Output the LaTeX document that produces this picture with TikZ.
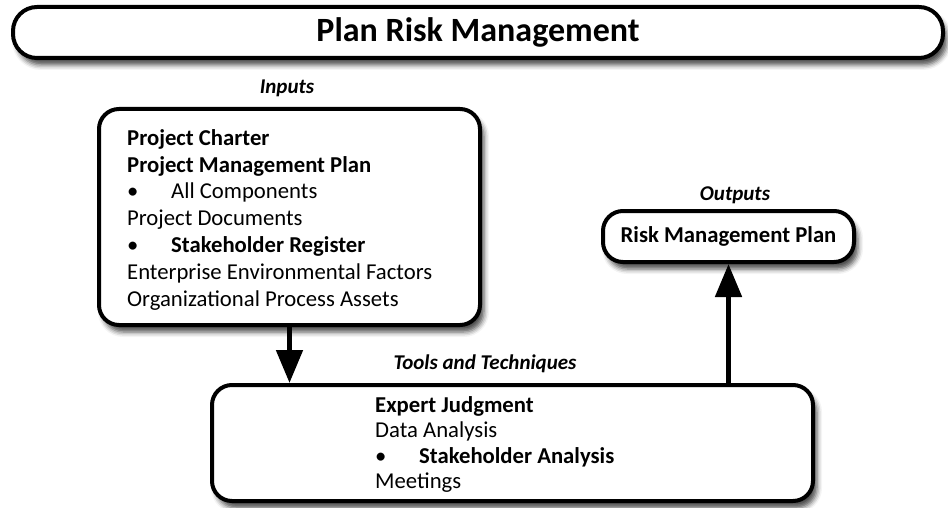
\documentclass[tikz,border=0pt]{standalone}
\usepackage{fontspec}
\setmainfont{Carlito}
\usetikzlibrary{shadows.blur,arrows.meta}

\tikzset{
  roundbox/.style={draw, line width=4pt, rounded corners=20pt, fill=white,
    blur shadow={shadow xshift=4pt, shadow yshift=-7pt, shadow blur radius=5pt, shadow opacity=70}},
  grouplabel/.style={font=\fontsize{21}{25}\selectfont\bfseries\itshape},
  boxtext/.style={align=left, inner sep=0pt, anchor=north west},
  bigarrow/.style={line width=5pt, -{Triangle[width=26pt,length=33pt]}},
}
\newcommand{\bul}{\makebox[44pt][l]{\textbullet}}

\begin{document}
\begin{tikzpicture}[x=1pt, y=-1pt]
  \useasboundingbox (0,0) rectangle (948,508);

  % process title
  \node[roundbox, rounded corners=24pt, minimum width=930pt, minimum height=51pt,
        font=\fontsize{34}{40}\selectfont\bfseries] (title) at (478,32.5) {Plan Risk Management};

  % inputs
  \node[grouplabel] (inlabel) at (287,88) {Inputs};
  \node[roundbox, minimum width=381pt, minimum height=216pt] (inbox) at (289.5,217) {};
  \node[boxtext, font=\fontsize{22.7}{26.9}\selectfont] (intext) at (127,129) {%
    \textbf{Project Charter}\\
    \textbf{Project Management Plan}\\
    \bul All Components\\
    Project Documents\\
    \bul\textbf{Stakeholder Register}\\
    Enterprise Environmental Factors\\
    Organizational Process Assets};

  % tools and techniques
  \node[grouplabel] (toollabel) at (485,364) {Tools and Techniques};
  \node[roundbox, minimum width=601pt, minimum height=116pt] (toolbox) at (512.5,443) {};
  \node[boxtext, font=\fontsize{22.7}{25.5}\selectfont] (tooltext) at (375,396) {%
    \textbf{Expert Judgment}\\
    Data Analysis\\
    \bul\textbf{Stakeholder Analysis}\\
    Meetings};

  % outputs
  \node[grouplabel] (outlabel) at (735,195) {Outputs};
  \node[roundbox, minimum width=251pt, minimum height=51pt,
        font=\fontsize{22.7}{27}\selectfont\bfseries] (outbox) at (728.5,236.5) {Risk Management Plan};

  % flow
  \draw[bigarrow] (inbox.south) -- (inbox.south |- toolbox.north);
  \draw[bigarrow] (outbox.south |- toolbox.north) -- (outbox.south);
\end{tikzpicture}
\end{document}
